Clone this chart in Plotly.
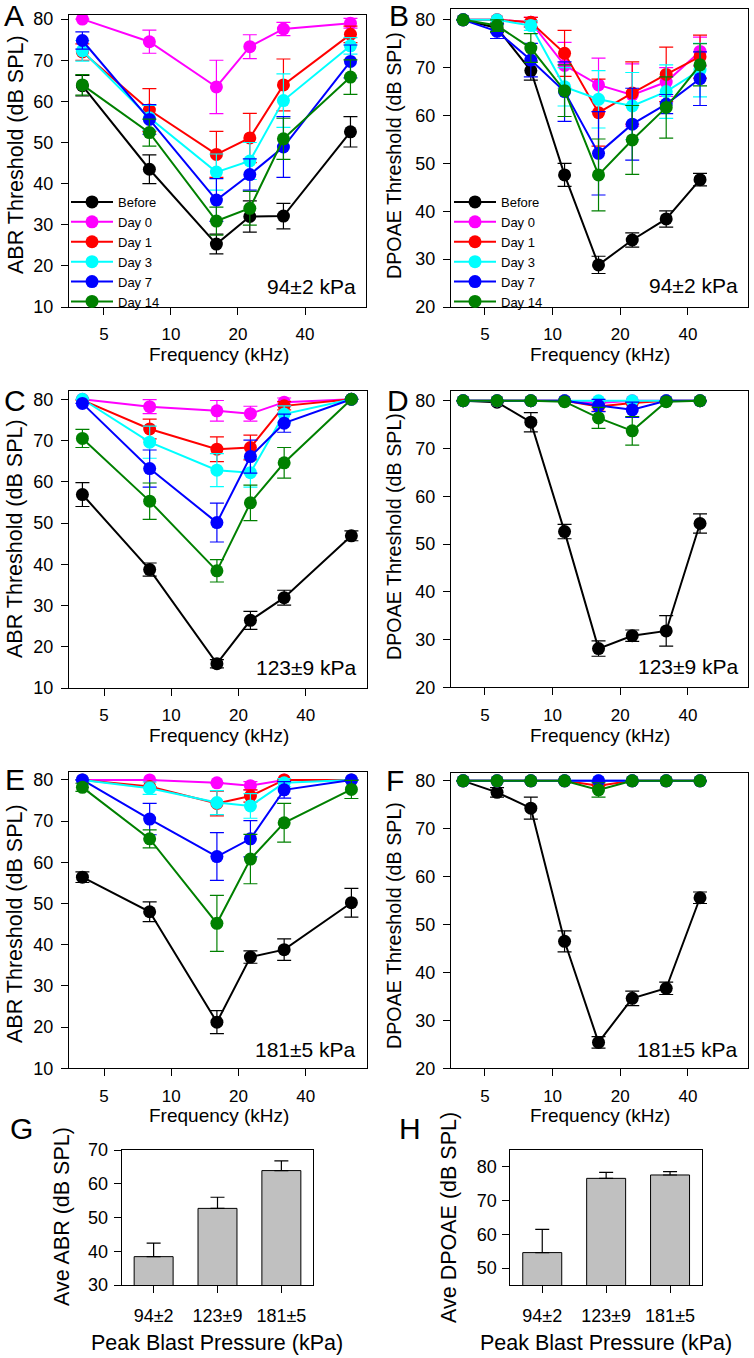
import plotly.graph_objects as go

W, H = 754, 1358

SERIES = ["Before", "Day 0", "Day 1", "Day 3", "Day 7", "Day 14"]
COLORS = ["#000000", "#FF00FF", "#FF0000", "#00FFFF", "#0000FF", "#008000"]

ABR_FREQ = [4, 8, 16, 22.6, 32, 64]
DP_FREQ = [4, 5.66, 8, 11.3, 16, 22.6, 32, 45.25]

# Panel A: ABR, 94±2 kPa
abr94_before = [63.8, 43.5, 25.3, 32.0, 32.1, 52.6]
abr94_before_err = [2.5, 3.5, 2.4, 3.8, 3.1, 3.7]
abr94_d0 = [80.0, 74.5, 63.5, 73.3, 77.6, 79.0]
abr94_d0_err = [None, 2.8, 6.5, 2.9, 1.6, 1.2]
abr94_d1 = [72.0, 57.9, 47.1, 51.1, 64.0, 76.3]
abr94_d1_err = [2.0, 5.2, 5.6, 6.0, 6.3, 2.0]
abr94_d3 = [72.3, 56.0, 42.8, 45.5, 60.2, 73.5]
abr94_d3_err = [2.5, 3.0, 4.4, 4.5, 6.5, 2.0]
abr94_d7 = [74.8, 55.6, 36.0, 42.2, 48.9, 69.7]
abr94_d7_err = [2.1, 3.6, 5.2, 3.8, 7.4, 4.0]
abr94_d14 = [64.0, 52.4, 30.9, 34.0, 50.9, 65.9]
abr94_d14_err = [2.5, 3.3, 3.4, 4.1, 5.0, 4.2]

# Panel B: DPOAE, 94±2 kPa
dp94_before = [80.0, 78.3, 69.4, 47.6, 28.8, 34.0, 38.4, 46.6]
dp94_before_err = [None, 1.0, 2.0, 2.4, 1.8, 1.5, 1.7, 1.3]
dp94_d0 = [80.0, 80.0, 79.5, 70.5, 66.4, 64.3, 67.0, 73.4]
dp94_d0_err = [None, None, 1.0, 4.8, 5.6, 6.5, 3.0, 3.0]
dp94_d1 = [80.0, 80.0, 79.5, 73.0, 60.6, 64.7, 68.6, 72.3]
dp94_d1_err = [None, None, 1.0, 4.8, 7.0, 6.5, 5.7, 4.5]
dp94_d3 = [80.0, 80.0, 78.8, 66.0, 63.4, 62.0, 65.0, 69.5]
dp94_d3_err = [None, None, 1.0, 4.0, 6.0, 7.0, 5.6, 5.6]
dp94_d7 = [80.0, 77.6, 71.6, 65.0, 52.1, 58.2, 62.4, 67.7]
dp94_d7_err = [None, 1.5, 3.5, 6.2, 8.7, 7.5, 2.0, 5.6]
dp94_d14 = [80.0, 78.8, 74.1, 65.2, 47.6, 54.9, 61.7, 70.6]
dp94_d14_err = [None, 1.2, 3.0, 5.4, 7.5, 7.2, 6.4, 4.4]

# Panel C: ABR, 123±9 kPa
abr123_before = [56.9, 38.7, 15.9, 26.4, 31.9, 46.9]
abr123_before_err = [2.9, 1.6, 1.0, 2.2, 1.8, 1.2]
abr123_d0 = [80.0, 78.2, 77.2, 76.5, 79.3, 80.0]
abr123_d0_err = [None, 1.7, 2.5, 1.8, 1.0, None]
abr123_d1 = [79.8, 72.8, 67.9, 68.3, 78.4, 80.0]
abr123_d1_err = [None, 2.4, 3.0, 3.0, 1.0, None]
abr123_d3 = [80.0, 69.6, 62.8, 62.2, 76.4, 80.0]
abr123_d3_err = [None, 3.9, 4.0, 3.5, 2.0, None]
abr123_d7 = [79.0, 63.2, 50.1, 66.1, 74.2, 80.0]
abr123_d7_err = [None, 4.5, 4.7, 4.0, 2.2, None]
abr123_d14 = [70.5, 55.3, 38.4, 54.9, 64.6, 80.0]
abr123_d14_err = [2.2, 4.4, 2.7, 4.3, 3.7, None]

# Panel D: DPOAE, 123±9 kPa
dp123_before = [80.0, 79.7, 75.5, 52.6, 28.1, 30.8, 31.8, 54.3]
dp123_before_err = [None, None, 2.0, 1.5, 1.6, 1.2, 3.2, 2.0]
dp123_d0 = [80.0, 80.0, 80.0, 80.0, 79.5, 80.0, 80.0, 80.0]
dp123_d0_err = [None, None, None, None, None, None, None, None]
dp123_d1 = [80.0, 80.0, 80.0, 80.0, 78.8, 79.5, 80.0, 80.0]
dp123_d1_err = [None, None, None, None, 1.0, None, None, None]
dp123_d3 = [80.0, 80.0, 80.0, 80.0, 80.0, 80.0, 80.0, 80.0]
dp123_d3_err = [None, None, None, None, None, None, None, None]
dp123_d7 = [80.0, 80.0, 80.0, 80.0, 79.0, 78.1, 80.0, 80.0]
dp123_d7_err = [None, None, None, None, 1.3, 1.6, None, None]
dp123_d14 = [80.0, 80.0, 80.0, 79.8, 76.4, 73.7, 79.8, 80.0]
dp123_d14_err = [None, None, None, None, 2.2, 3.0, None, None]

# Panel E: ABR, 181±5 kPa
abr181_before = [56.4, 48.0, 21.2, 37.0, 38.8, 50.2]
abr181_before_err = [1.3, 2.4, 2.8, 1.5, 2.6, 3.5]
abr181_d0 = [80.0, 80.0, 79.3, 78.6, 80.0, 80.0]
abr181_d0_err = [None, None, None, 1.0, None, None]
abr181_d1 = [80.0, 78.4, 74.3, 76.1, 80.0, 80.0]
abr181_d1_err = [None, None, 3.0, 1.5, None, None]
abr181_d3 = [80.0, 78.0, 74.5, 73.7, 79.3, 80.0]
abr181_d3_err = [None, 1.5, 2.9, 3.0, 1.0, None]
abr181_d7 = [80.0, 70.5, 61.4, 65.7, 77.6, 80.0]
abr181_d7_err = [None, 3.8, 5.8, 4.4, 2.0, None]
abr181_d14 = [78.2, 65.7, 45.2, 60.8, 69.6, 77.7]
abr181_d14_err = [1.0, 2.2, 6.8, 6.0, 4.7, 2.2]

# Panel F: DPOAE, 181±5 kPa
dp181_before = [80.0, 77.6, 74.3, 46.5, 25.4, 34.6, 36.7, 55.6]
dp181_before_err = [None, 1.0, 2.3, 2.2, 1.2, 1.5, 1.3, 1.2]
dp181_d0 = [80.0, 80.0, 80.0, 80.0, 80.0, 80.0, 80.0, 80.0]
dp181_d0_err = [None, None, None, None, None, None, None, None]
dp181_d1 = [80.0, 80.0, 80.0, 80.0, 79.0, 80.0, 80.0, 80.0]
dp181_d1_err = [None, None, None, None, None, None, None, None]
dp181_d3 = [80.0, 80.0, 80.0, 80.0, 80.0, 80.0, 80.0, 80.0]
dp181_d3_err = [None, None, None, None, None, None, None, None]
dp181_d7 = [80.0, 80.0, 80.0, 80.0, 80.0, 80.0, 80.0, 80.0]
dp181_d7_err = [None, None, None, None, None, None, None, None]
dp181_d14 = [80.0, 80.0, 80.0, 80.0, 78.1, 80.0, 80.0, 80.0]
dp181_d14_err = [None, None, None, None, 1.5, None, None, None]

# Panels G, H: averages
PRESSURES = ["94±2", "123±9", "181±5"]
ave_abr = [38.4, 52.7, 63.9]
ave_abr_err = [4.0, 3.3, 2.9]
ave_dpoae = [54.6, 76.6, 77.6]
ave_dpoae_err = [6.9, 1.8, 1.0]

FONT = "Liberation Sans, Arial, Helvetica, sans-serif"

fig = go.Figure()

# pixel boxes (left, top, right, bottom)
boxes = {
    1: (69, 15, 366, 307),
    2: (451, 9.3, 748, 307),
    3: (69, 391, 367, 688),
    4: (451, 390.7, 748, 687.3),
    5: (69, 771.7, 367, 1068.3),
    6: (451, 772.7, 748, 1068.3),
    7: (121.7, 1150, 313.3, 1285),
    8: (510.3, 1150, 702, 1285),
}
yranges = {1: [10, 81], 2: [20, 82.2], 3: [10, 82], 4: [20, 82.1],
           5: [10, 82], 6: [20, 81.7], 7: [30, 70], 8: [45, 85]}
xr_abr = [0.542, 1.876]
xr_dp = [0.548, 1.869]

panels = [
    (1, ABR_FREQ, [abr94_before, abr94_d0, abr94_d1, abr94_d3, abr94_d7, abr94_d14],
     [abr94_before_err, abr94_d0_err, abr94_d1_err, abr94_d3_err, abr94_d7_err, abr94_d14_err], "legend"),
    (2, DP_FREQ, [dp94_before, dp94_d0, dp94_d1, dp94_d3, dp94_d7, dp94_d14],
     [dp94_before_err, dp94_d0_err, dp94_d1_err, dp94_d3_err, dp94_d7_err, dp94_d14_err], "legend2"),
    (3, ABR_FREQ, [abr123_before, abr123_d0, abr123_d1, abr123_d3, abr123_d7, abr123_d14],
     [abr123_before_err, abr123_d0_err, abr123_d1_err, abr123_d3_err, abr123_d7_err, abr123_d14_err], None),
    (4, DP_FREQ, [dp123_before, dp123_d0, dp123_d1, dp123_d3, dp123_d7, dp123_d14],
     [dp123_before_err, dp123_d0_err, dp123_d1_err, dp123_d3_err, dp123_d7_err, dp123_d14_err], None),
    (5, ABR_FREQ, [abr181_before, abr181_d0, abr181_d1, abr181_d3, abr181_d7, abr181_d14],
     [abr181_before_err, abr181_d0_err, abr181_d1_err, abr181_d3_err, abr181_d7_err, abr181_d14_err], None),
    (6, DP_FREQ, [dp181_before, dp181_d0, dp181_d1, dp181_d3, dp181_d7, dp181_d14],
     [dp181_before_err, dp181_d0_err, dp181_d1_err, dp181_d3_err, dp181_d7_err, dp181_d14_err], None),
]

for idx, freqs, ys, errs, leg in panels:
    sfx = "" if idx == 1 else str(idx)
    for name, color, y, e in zip(SERIES, COLORS, ys, errs):
        fig.add_trace(go.Scatter(
            x=freqs, y=y, name=name, mode="lines+markers",
            line=dict(color=color, width=2),
            marker=dict(color=color, size=13),
            error_y=dict(type="data", array=e, visible=True, color=color,
                         thickness=1.2, width=7),
            xaxis="x" + sfx, yaxis="y" + sfx,
            showlegend=leg is not None,
            legend=leg if leg else "legend",
        ))

for idx, vals, errs in [(7, ave_abr, ave_abr_err), (8, ave_dpoae, ave_dpoae_err)]:
    fig.add_trace(go.Bar(
        x=[0, 1, 2], y=vals, width=0.61,
        marker=dict(color="#C0C0C0", line=dict(color="black", width=1)),
        error_y=dict(type="data", array=errs, arrayminus=[0, 0, 0], symmetric=False,
                     color="black", thickness=1.2, width=7),
        xaxis="x" + str(idx), yaxis="y" + str(idx), showlegend=False,
    ))

axis_common = dict(showline=True, linecolor="black", linewidth=1, mirror=True,
                   ticks="outside", ticklen=7, tickcolor="black", tickwidth=1,
                   showgrid=False, zeroline=False, automargin=False,
                   tickfont=dict(family=FONT, size=18, color="black"))

layout = dict(
    width=W, height=H,
    margin=dict(l=0, r=0, t=0, b=0, pad=0, autoexpand=False),
    paper_bgcolor="white", plot_bgcolor="white",
    font=dict(family=FONT, color="black"),
)

for idx, (l, t, r, b) in boxes.items():
    sfx = "" if idx == 1 else str(idx)
    xd = [l / W, r / W]
    yd = [1 - b / H, 1 - t / H]
    if idx <= 6:
        xa = dict(axis_common, type="log", domain=xd,
                  range=xr_abr if idx % 2 == 1 else xr_dp,
                  tickvals=[5, 10, 20, 40], ticktext=["5", "10", "20", "40"],
                  tickfont=dict(family=FONT, size=17, color="black"),
                  ticklabelstandoff=5, anchor="y" + sfx)
        ya = dict(axis_common, domain=yd, range=yranges[idx], dtick=10,
                  tick0=0, ticklabelstandoff=4, anchor="x" + sfx)
    else:
        xa = dict(axis_common, domain=xd, range=[-0.5, 2.5],
                  tickvals=[0, 1, 2], ticktext=PRESSURES,
                  ticklabelstandoff=7, anchor="y" + sfx)
        ya = dict(axis_common, domain=yd, range=yranges[idx], dtick=10,
                  tick0=0, ticklabelstandoff=2, anchor="x" + sfx)
    layout["xaxis" + sfx] = xa
    layout["yaxis" + sfx] = ya

leg_common = dict(xanchor="left", yanchor="top", bgcolor="rgba(0,0,0,0)",
                  font=dict(family=FONT, size=13, color="black"),
                  itemwidth=42, tracegroupgap=0, traceorder="normal")
layout["legend"] = dict(leg_common, x=66 / W, y=1 - 187 / H)
layout["legend2"] = dict(leg_common, x=449 / W, y=1 - 187 / H)

fig.update_layout(**layout)

ann = []
def txt(x, y, s, size, xanchor="center", angle=0):
    ann.append(dict(x=x / W, y=1 - y / H, xref="paper", yref="paper", text=s,
                    showarrow=False, xanchor=xanchor, yanchor="middle",
                    textangle=angle, font=dict(family=FONT, size=size, color="black")))

# panel letters
for s, x, y in [("A", 14, 16), ("B", 399, 16), ("C", 15, 400), ("D", 398, 400),
                ("E", 15, 780), ("F", 395, 781), ("G", 21, 1128), ("H", 410, 1128)]:
    txt(x, y, s, 30)

# y titles
for s, x, y, fs in [("ABR Threshold (dB SPL)", 16, 155, 21.5),
                    ("DPOAE Threshold (dB SPL)", 394, 156, 19.7),
                    ("ABR Threshold (dB SPL)", 15, 539, 21.5),
                    ("DPOAE Threshold (dB SPL)", 394, 537, 19.7),
                    ("ABR Threshold (dB SPL)", 15, 924, 21.5),
                    ("DPOAE Threshold (dB SPL)", 394, 926, 19.7),
                    ("Ave ABR (dB SPL)", 62, 1217, 21.5),
                    ("Ave DPOAE (dB SPL)", 449, 1217, 21.5)]:
    txt(x, y, s, fs, angle=-90)

# x titles
for s, x, y in [("Frequency (kHz)", 219, 355), ("Frequency (kHz)", 600, 355),
                ("Frequency (kHz)", 219, 735), ("Frequency (kHz)", 600, 735),
                ("Frequency (kHz)", 219, 1115), ("Frequency (kHz)", 600, 1115)]:
    txt(x, y, s, 19)
for s, x, y in [("Peak Blast Pressure (kPa)", 217, 1343), ("Peak Blast Pressure (kPa)", 606, 1343)]:
    txt(x, y, s, 21.5)

# pressure labels
for s, x, y in [("94±2 kPa", 358, 286), ("94±2 kPa", 740, 285),
                ("123±9 kPa", 359, 667), ("123±9 kPa", 741, 666),
                ("181±5 kPa", 358, 1049), ("181±5 kPa", 740, 1049)]:
    txt(x, y, s, 21, xanchor="right")

fig.update_layout(annotations=ann)
fig.write_html("out.html", config={"displayModeBar": False},
               post_script="document.body.style.margin='0px';document.body.style.overflow='hidden';")
